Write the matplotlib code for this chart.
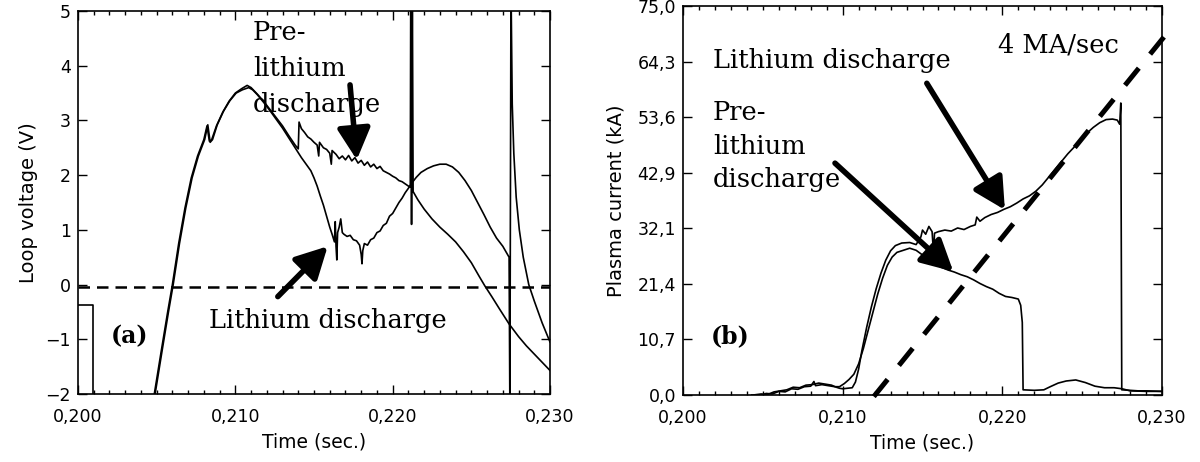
import numpy as np
import matplotlib
matplotlib.use('Agg')
import matplotlib.pyplot as plt
from matplotlib.ticker import FixedLocator, MultipleLocator

plt.rcParams.update({'font.family': 'DejaVu Sans', 'font.size': 12.5})

# ---- axis ticks ----
x_ticks = [0.200, 0.210, 0.220, 0.230]
x_tick_labels = ["0,200", "0,210", "0,220", "0,230"]
v_ticks = [-2, -1, 0, 1, 2, 3, 4, 5]
i_ticks = [0.0, 10.714, 21.429, 32.143, 42.857, 53.571, 64.286, 75.0]
i_tick_labels = ["0,0", "10,7", "21,4", "32,1", "42,9", "53,6", "64,3", "75,0"]

# ---- (a) loop voltage, time in ms after 0.200 s ----
offset_ms = [0.0, 0.95, 0.95]
offset_v = [-0.38, -0.38, -2.3]

pre_v_ms = [4.85, 5.3, 5.7, 6.0, 6.4, 6.8, 7.2, 7.6, 8.0, 8.2, 8.35, 8.5, 8.8, 9.2, 9.6,
            10.0, 10.4, 10.75, 11.0, 11.4, 11.8, 12.2, 12.6, 13.0, 13.4, 13.8, 14.0, 14.05,
            14.2, 14.4, 14.6, 14.8, 15.0, 15.2, 15.3, 15.35, 15.6, 15.8, 16.0, 16.1, 16.15,
            16.4, 16.6, 16.8, 17.0, 17.2, 17.4, 17.6, 17.8, 18.0, 18.2, 18.4, 18.6, 18.8,
            19.0, 19.2, 19.4, 19.6, 19.8, 20.0, 20.2, 20.4, 20.6, 20.8, 21.0, 21.12, 21.15,
            21.2, 21.25, 21.3, 21.6, 22.0, 22.5, 23.0, 23.5, 24.0, 24.5, 25.0, 25.5, 25.85,
            26.3, 26.8, 27.4, 28.0, 28.5, 29.0, 29.5, 30.0]
pre_v = [-2.0, -1.2, -0.5, 0.0, 0.75, 1.4, 1.95, 2.35, 2.65, 2.9, 2.62, 2.65, 2.9, 3.15, 3.35,
         3.5, 3.58, 3.64, 3.6, 3.48, 3.35, 3.2, 3.05, 2.9, 2.72, 2.55, 2.48, 2.97,
         2.85, 2.78, 2.7, 2.66, 2.6, 2.55, 2.35, 2.6, 2.5, 2.47, 2.4, 2.2, 2.45,
         2.38, 2.3, 2.35, 2.28, 2.36, 2.26, 2.32, 2.22, 2.27, 2.18, 2.24, 2.15, 2.2,
         2.12, 2.16, 2.08, 2.05, 2.02, 1.98, 1.95, 1.9, 1.88, 1.84, 1.8, 1.78, 5.5,
         1.1, 5.5, 1.7, 1.55, 1.38, 1.2, 1.05, 0.92, 0.78, 0.6, 0.4, 0.15, -0.02,
         -0.22, -0.45, -0.72, -0.95, -1.12, -1.27, -1.42, -1.57]

li_v_ms = [4.9, 5.35, 5.75, 6.05, 6.45, 6.85, 7.25, 7.65, 8.05, 8.25, 8.4, 8.55, 8.85, 9.25,
           9.65, 10.05, 10.45, 10.85, 11.1, 11.4, 11.8, 12.2, 12.6, 13.0, 13.4, 13.8, 14.2,
           14.5, 14.8, 15.0, 15.2, 15.4, 15.6, 15.8, 16.0, 16.15, 16.3, 16.35, 16.4, 16.45,
           16.5, 16.6, 16.7, 16.8, 16.9, 17.1, 17.3, 17.5, 17.7, 17.9, 18.0, 18.05, 18.1,
           18.2, 18.4, 18.6, 18.8, 19.0, 19.2, 19.4, 19.6, 19.8, 20.0, 20.2, 20.4, 20.6,
           20.8, 21.0, 21.2, 21.5, 21.8, 22.2, 22.6, 23.0, 23.4, 23.8, 24.2, 24.6, 25.0,
           25.4, 25.8, 26.2, 26.6, 27.0, 27.4, 27.45, 27.52, 27.6, 27.7, 27.85, 28.05,
           28.3, 28.65, 29.0, 29.5, 30.0]
li_v = [-2.0, -1.2, -0.5, 0.0, 0.75, 1.4, 1.95, 2.35, 2.65, 2.92, 2.6, 2.65, 2.92, 3.17,
        3.36, 3.5, 3.56, 3.6, 3.56, 3.47, 3.33, 3.18, 3.02, 2.86, 2.68, 2.5, 2.32,
        2.2, 2.08, 1.95, 1.8, 1.62, 1.45, 1.25, 1.05, 0.92, 0.78, 1.15, 0.7, 0.45,
        0.95, 1.05, 1.2, 0.95, 0.92, 0.88, 0.9, 0.82, 0.8, 0.72, 0.55, 0.38, 0.62,
        0.75, 0.72, 0.82, 0.85, 0.95, 0.98, 1.08, 1.12, 1.25, 1.3, 1.4, 1.5, 1.58,
        1.68, 1.76, 1.85, 1.96, 2.05, 2.12, 2.17, 2.2, 2.2, 2.15, 2.05, 1.9, 1.72,
        1.5, 1.28, 1.05, 0.85, 0.7, 0.5, -2.3, 5.5, 3.3, 2.4, 1.6, 1.0,
        0.5, 0.0, -0.3, -0.7, -1.05]

zero_ms = [0.0, 30.0]
zero_v = [-0.04, -0.04]

# ---- (b) plasma current (kA) ----
pre_i_ms = [4.3, 4.8, 5.2, 5.6, 6.0, 6.4, 6.8, 7.2, 7.6, 8.0, 8.2, 8.3, 8.7, 9.1, 9.5, 9.8,
            10.1, 10.4, 10.7, 11.0, 11.3, 11.6, 11.9, 12.2, 12.5, 12.8, 13.1, 13.4, 13.8,
            14.2, 14.6, 15.0, 15.4, 15.8, 16.2, 16.6, 17.0, 17.4, 17.8, 18.2, 18.6, 19.0,
            19.4, 19.8, 20.2, 20.6, 21.0, 21.15, 21.25, 21.3, 22.0, 22.6, 23.0, 23.5, 24.0,
            24.6, 25.2, 25.8, 26.4, 27.0, 27.5, 28.0, 29.0, 30.0]
pre_i = [0.0, -0.2, 0.3, 0.2, 0.7, 0.6, 1.2, 1.1, 1.6, 1.7, 2.6, 1.8, 2.0, 1.8, 1.6, 1.6,
         2.2, 3.0, 4.0, 6.0, 9.0, 12.5, 16.0, 19.5, 22.5, 25.0, 26.6, 27.5, 27.9,
         28.3, 27.9, 27.0, 26.1, 25.3, 24.6, 24.1, 23.7, 23.2, 22.8, 22.2, 21.5, 20.9,
         20.4, 19.6, 19.0, 18.8, 18.5, 17.3, 14.0, 1.0, 0.9, 1.0, 1.6, 2.3, 2.7,
         2.9, 2.4, 1.7, 1.4, 1.4, 1.2, 0.8, 0.7, 0.7]

li_i_ms = [4.4, 4.9, 5.3, 5.7, 6.1, 6.5, 6.9, 7.3, 7.7, 8.1, 8.5, 8.9, 9.3, 9.6, 9.8, 10.0,
           10.3, 10.6, 10.8, 11.0, 11.2, 11.5, 11.8, 12.1, 12.4, 12.7, 13.0, 13.3, 13.7,
           14.2, 14.6, 14.9, 15.0, 15.2, 15.4, 15.6, 15.7, 15.75, 16.0, 16.4, 16.8, 17.2,
           17.6, 18.0, 18.3, 18.4, 18.6, 18.9, 19.3, 19.7, 20.1, 20.5, 20.9, 21.3, 21.7,
           22.1, 22.5, 22.9, 23.3, 23.7, 24.1, 24.5, 24.9, 25.3, 25.7, 26.1, 26.5, 26.9,
           27.2, 27.35, 27.42, 27.48, 28.0, 28.5, 29.0, 30.0]
li_i = [0.0, 0.2, 0.1, 0.6, 0.8, 1.0, 1.5, 1.4, 1.9, 2.0, 2.3, 2.1, 1.9, 1.5, 1.3, 1.2,
        1.3, 1.4, 2.5, 5.0, 8.5, 13.0, 17.0, 20.5, 23.5, 26.0, 27.8, 28.8, 29.3,
        29.4, 29.0, 30.5, 31.8, 31.0, 32.5, 31.5, 27.0, 31.2, 31.5, 31.8, 31.6, 32.2,
        31.9, 32.5, 32.8, 34.3, 33.5, 34.2, 34.8, 35.2, 35.8, 36.3, 37.0, 37.8, 38.4,
        39.3, 40.5, 42.0, 43.5, 45.0, 46.5, 47.8, 49.2, 50.5, 51.6, 52.5, 53.1, 53.2,
        53.0, 52.2, 56.3, 1.0, 0.9, 0.8, 0.8, 0.7]

ramp_ms = [11.95, 30.3]
ramp_i = [-0.3, 69.7]


def sec(ms):
    return 0.200 + np.asarray(ms) / 1000.0


fig = plt.figure(figsize=(12, 4.62), dpi=100)
ax1 = fig.add_axes([78 / 1200, 68 / 462, 472 / 1200, 383 / 462])
ax2 = fig.add_axes([683 / 1200, 67 / 462, 479 / 1200, 389 / 462])

lw = 1.2
ax1.plot(sec(offset_ms), offset_v, color='k', lw=lw)
ax1.plot(sec(pre_v_ms), pre_v, color='k', lw=lw)
ax1.plot(sec(li_v_ms), li_v, color='k', lw=lw)
ax1.plot(sec(zero_ms), zero_v, color='k', lw=1.8, ls=(0, (4.6, 2.8)))

ax2.plot(sec(pre_i_ms), pre_i, color='k', lw=lw)
ax2.plot(sec(li_i_ms), li_i, color='k', lw=lw)
ax2.plot(sec(ramp_ms), ramp_i, color='k', lw=3.6, ls=(0, (4.4, 3.6)),
         solid_capstyle='butt', dash_capstyle='butt', clip_on=False)

ax1.set_ylim(-2, 5)
ax1.yaxis.set_major_locator(FixedLocator(v_ticks))
ax1.set_yticklabels([str(v).replace('-', '\u2212') for v in v_ticks])
ax2.set_ylim(0, 75)
ax2.yaxis.set_major_locator(FixedLocator(i_ticks))
ax2.set_yticklabels(i_tick_labels)

for ax in (ax1, ax2):
    ax.set_xlim(0.200, 0.230)
    ax.xaxis.set_major_locator(FixedLocator(x_ticks))
    ax.set_xticklabels(x_tick_labels)
    ax.xaxis.set_minor_locator(MultipleLocator(0.001))
    ax.tick_params(which='both', direction='in', top=True, right=True, width=1.0)
    ax.tick_params(which='major', length=6.5, labelsize=12.5)
    ax.tick_params(which='minor', length=3)
    ax.tick_params(axis='x', pad=10)
    ax.tick_params(axis='y', pad=5)
    for s in ax.spines.values():
        s.set_linewidth(1.2)
    ax.set_xlabel('Time (sec.)', fontsize=13.5)
    ax.xaxis.set_label_coords(0.5, -0.10)

ax1.set_ylabel('Loop voltage (V)', fontsize=14)
ax1.yaxis.set_label_coords(-0.085, 0.5)
ax2.set_ylabel('Plasma current (kA)', fontsize=14)
ax2.yaxis.set_label_coords(-0.119, 0.5)

# ---- annotations ----
serif = dict(family='DejaVu Serif', fontsize=18.5, va='baseline', ha='left')
arrow_kw = dict(arrowstyle='-|>,head_length=0.95,head_width=0.5', mutation_scale=20,
                lw=4, color='k', shrinkA=0, shrinkB=0)

# multi-line texts are anchored at the baseline of their last line
ax1.text(sec(11.12), 3.16, 'Pre-\nlithium\ndischarge', linespacing=1.55, **serif)
ax1.text(sec(8.3), -0.79, 'Lithium discharge', **serif)
ax1.text(sec(2.1), -1.07, '(a)', family='DejaVu Serif', fontsize=17, fontweight='bold',
         va='baseline', ha='left')
ax1.annotate('', xy=(sec(17.72), 2.28), xytext=(sec(17.29), 3.65), arrowprops=arrow_kw)
ax1.annotate('', xy=(sec(15.87), 0.70), xytext=(sec(12.7), -0.22), arrowprops=arrow_kw)

ax2.text(sec(1.88), 63.0, 'Lithium discharge', **serif)
ax2.text(sec(1.88), 40.1, 'Pre-\nlithium\ndischarge', linespacing=1.42, **serif)
ax2.text(sec(19.72), 66.1, '4 MA/sec', **serif)
ax2.text(sec(1.75), 10.0, '(b)', family='DejaVu Serif', fontsize=17, fontweight='bold',
         va='baseline', ha='left')
ax2.annotate('', xy=(sec(20.16), 35.7), xytext=(sec(15.27), 60.1), arrowprops=arrow_kw)
ax2.annotate('', xy=(sec(16.93), 23.8), xytext=(sec(9.52), 44.7), arrowprops=arrow_kw)

fig.savefig('out.png', dpi=100)
plt.close(fig)
